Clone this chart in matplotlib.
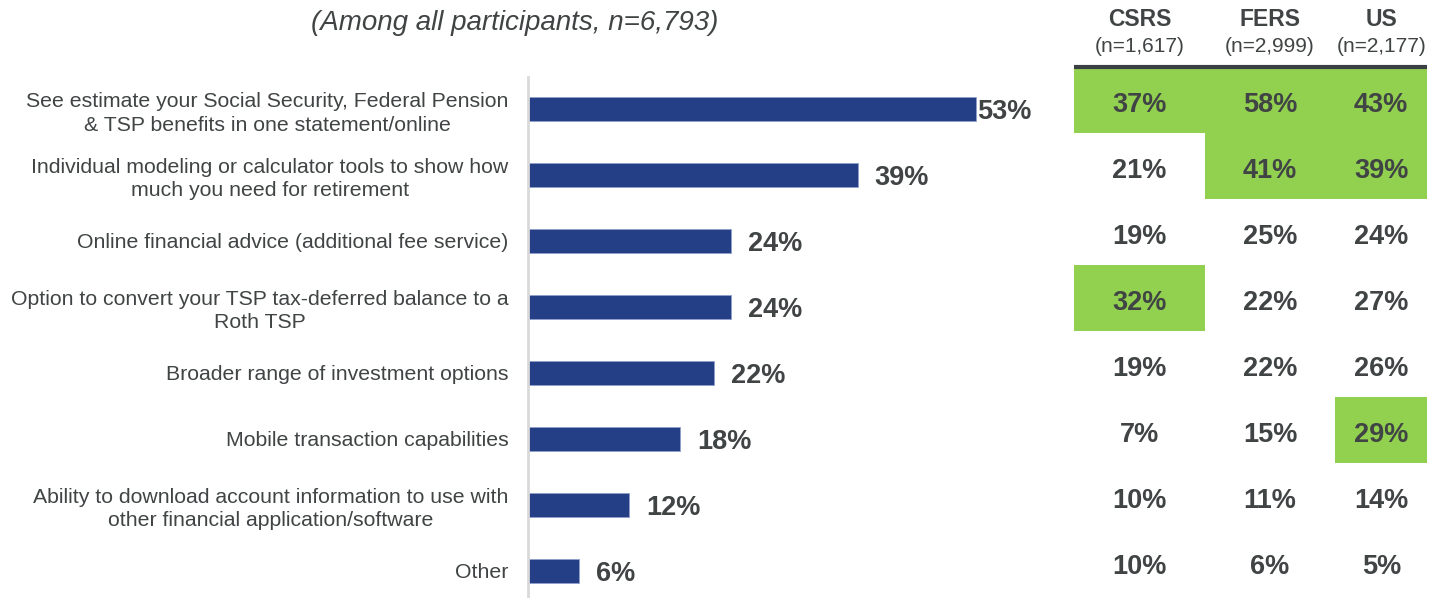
import matplotlib
matplotlib.use("Agg")
import matplotlib.pyplot as plt
import matplotlib.patches as mpatches

plt.rcParams['font.family'] = ['Liberation Sans', 'DejaVu Sans']

# --- data ---
categories = [
    "See estimate your Social Security, Federal Pension\n& TSP benefits in one statement/online",
    "Individual modeling or calculator tools to show how\nmuch you need for retirement",
    "Online financial advice (additional fee service)",
    "Option to convert your TSP tax-deferred balance to a\nRoth TSP",
    "Broader range of investment options",
    "Mobile transaction capabilities",
    "Ability to download account information to use with\nother financial application/software",
    "Other",
]
overall = [53, 39, 24, 24, 22, 18, 12, 6]

groups = ["CSRS", "FERS", "US"]
group_n = ["(n=1,617)", "(n=2,999)", "(n=2,177)"]
csrs = [37, 21, 19, 32, 19, 7, 10, 10]
fers = [58, 41, 25, 22, 22, 15, 11, 6]
us = [43, 39, 24, 27, 26, 29, 14, 5]
# cells shaded green in the original
highlight = [
    [True, True, True],
    [False, True, True],
    [False, False, False],
    [True, False, False],
    [False, False, False],
    [False, False, True],
    [False, False, False],
    [False, False, False],
]
subtitle = "(Among all participants, n=6,793)"

# --- styling ---
W, H = 1442, 598
navy = "#253f87"
green = "#92d050"
txt = "#404444"

fig = plt.figure(figsize=(W / 100, H / 100), dpi=100)

# --- bar chart ---
ax = fig.add_axes([528 / W, 0, 507 / W, 521 / H])
n = len(categories)
ypos = list(range(n))
ax.barh(ypos, overall, height=0.36, color=navy, edgecolor="#8fa0cc", linewidth=0.6)
ax.set_xlim(0, 60)
ax.set_ylim(n - 1 + 0.41, -0.485)
ax.set_yticks(ypos)
ax.set_yticklabels(categories, fontsize=15.3, color=txt, multialignment="center",
                   linespacing=1.3)
ax.tick_params(axis="y", length=0, pad=14)
ax.set_xticks([])
for s in ["top", "right", "bottom"]:
    ax.spines[s].set_visible(False)
ax.spines["left"].set_color("#d9d9d9")
ax.spines["left"].set_linewidth(2)

for i, v in enumerate(overall):
    gap = 0.2 if i == 0 else 2.0
    ax.text(v + gap, i + 0.05, f"{v}%", va="center", ha="left",
            fontsize=19.5, fontweight="bold", color=txt)

fig.text(515 / W, 1 - 23 / H, subtitle, ha="center", va="center",
         fontsize=20, style="italic", color=txt)

# --- side table ---
tax = fig.add_axes([1074 / W, 3 / H, 353 / W, 528 / H])
col_edges = [0, 1.0, 2.0, 2.7]
tax.set_xlim(col_edges[0], col_edges[-1])
tax.set_ylim(n, 0)
tax.axis("off")
cols = [csrs, fers, us]
for j, vals in enumerate(cols):
    x0, x1 = col_edges[j], col_edges[j + 1]
    for i, v in enumerate(vals):
        if highlight[i][j]:
            tax.add_patch(mpatches.Rectangle((x0, i), x1 - x0, 1, facecolor=green,
                                             edgecolor="none"))
        tax.text((x0 + x1) / 2, i + 0.57, f"{v}%", ha="center", va="center",
                 fontsize=19.5, fontweight="bold", color=txt)
tax.plot([col_edges[0], col_edges[-1]], [0, 0], color="#3a3f44", lw=3,
         solid_capstyle="butt", clip_on=False)

for j, (g, gn) in enumerate(zip(groups, group_n)):
    xc = (1074 + 353 * (col_edges[j] + col_edges[j + 1]) / 2 / col_edges[-1]) / W
    fig.text(xc, 1 - 19 / H, g, ha="center", va="center", fontsize=16.5,
             fontweight="bold", color=txt)
    fig.text(xc, 1 - 46 / H, gn, ha="center", va="center", fontsize=15, color=txt)

fig.savefig("out.png", dpi=100)
